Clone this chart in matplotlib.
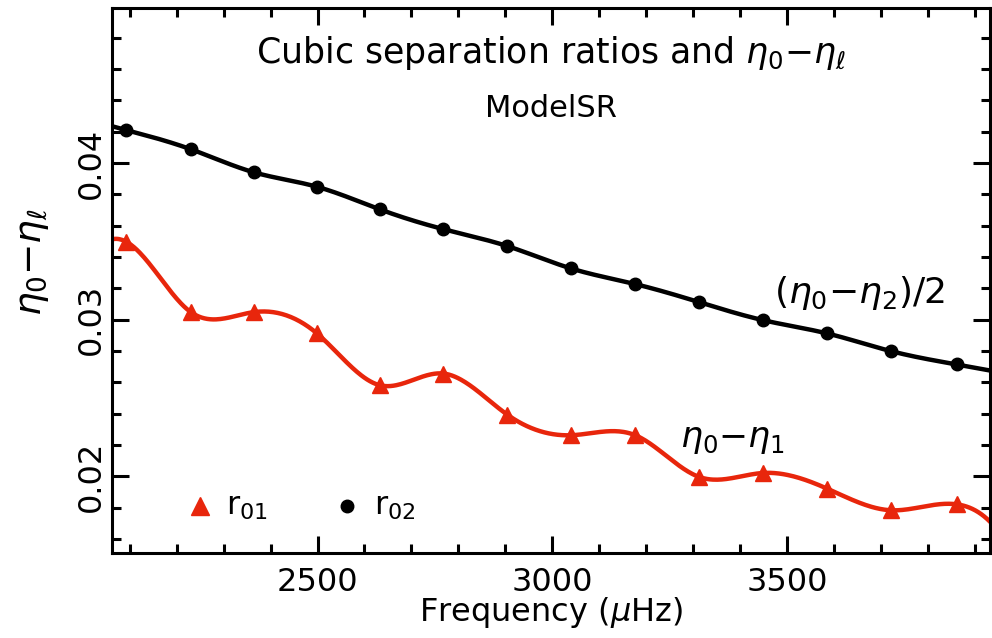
import numpy as np
import matplotlib
matplotlib.use('Agg')
import matplotlib.pyplot as plt
from matplotlib.ticker import MultipleLocator

# frequencies (muHz) and ratios
freq = [2092, 2230, 2364, 2498, 2633, 2768, 2904, 3040, 3177, 3313, 3449, 3586, 3722, 3862]
r02 = [0.04211, 0.04088, 0.03941, 0.03849, 0.03704, 0.03578, 0.03470,
       0.03327, 0.03227, 0.03112, 0.02997, 0.02912, 0.02799, 0.02714]
r01 = [0.03498, 0.03048, 0.03048, 0.02914, 0.02581, 0.02656, 0.02394,
       0.02262, 0.02262, 0.01996, 0.02021, 0.01921, 0.01783, 0.01821]

red = '#e8260c'


def spline(x, y, xs, d0=None, d1=None):
    # cubic spline, natural ends unless an end slope is given;
    # the end polynomials are used beyond the data
    x = np.asarray(x, float)
    y = np.asarray(y, float)
    n = len(x)
    h = np.diff(x)
    A = np.zeros((n, n))
    b = np.zeros(n)
    if d0 is None:
        A[0, 0] = 1
    else:
        A[0, 0] = 2 * h[0]
        A[0, 1] = h[0]
        b[0] = 3 * ((y[1] - y[0]) / h[0] - d0)
    if d1 is None:
        A[-1, -1] = 1
    else:
        A[-1, -2] = h[-1]
        A[-1, -1] = 2 * h[-1]
        b[-1] = 3 * (d1 - (y[-1] - y[-2]) / h[-1])
    for i in range(1, n - 1):
        A[i, i - 1] = h[i - 1]
        A[i, i] = 2 * (h[i - 1] + h[i])
        A[i, i + 1] = h[i]
        b[i] = 3 * ((y[i + 1] - y[i]) / h[i] - (y[i] - y[i - 1]) / h[i - 1])
    c = np.linalg.solve(A, b)
    bb = (y[1:] - y[:-1]) / h - h * (2 * c[:-1] + c[1:]) / 3
    d = (c[1:] - c[:-1]) / (3 * h)
    idx = np.clip(np.searchsorted(x, xs) - 1, 0, n - 2)
    dx = xs - x[idx]
    return y[idx] + bb[idx] * dx + c[idx] * dx ** 2 + d[idx] * dx ** 3


plt.rcParams['font.family'] = 'DejaVu Sans'
plt.rcParams['mathtext.fontset'] = 'dejavusans'

fig = plt.figure(figsize=(9.92, 6.38), dpi=100)
ax = fig.add_axes([0.1129, 0.1332, 0.8851, 0.8543])

xlo, xhi = 2062, 3933
xs = np.linspace(xlo, xhi, 600)
ax.plot(xs, spline(freq, r02, xs), color='black', lw=3.2, zorder=2)
ax.plot(xs, spline(freq, r01, xs, d0=-1.6e-5, d1=-4e-6), color=red, lw=3.2, zorder=2)
ax.plot(freq, r02, 'o', color='black', ms=9, zorder=3)
ax.plot(freq, r01, '^', color=red, ms=12, zorder=3)

ax.set_xlim(xlo, xhi)
ax.set_ylim(0.0151, 0.0499)

ax.xaxis.set_major_locator(MultipleLocator(500))
ax.xaxis.set_minor_locator(MultipleLocator(100))
ax.yaxis.set_major_locator(MultipleLocator(0.01))
ax.yaxis.set_minor_locator(MultipleLocator(0.002))
ax.tick_params(which='both', direction='in', top=True, right=True, width=2.2, labelsize=23)
ax.tick_params(which='major', length=12)
ax.tick_params(which='minor', length=6.5)
ax.tick_params(axis='x', pad=10)
for lab in ax.get_yticklabels():
    lab.set_rotation(90)
    lab.set_va('center')
for s in ax.spines.values():
    s.set_linewidth(2.2)

ax.set_xlabel(r'Frequency ($\mu$Hz)', fontsize=23, labelpad=-2)
ax.set_ylabel(r'$\eta_0$$-$$\eta_\ell$', fontsize=27)
ax.yaxis.set_label_coords(-0.069, 0.534)

ax.text(0.5, 0.917, r'Cubic separation ratios and $\eta_0$$-$$\eta_\ell$', transform=ax.transAxes,
        ha='center', va='center', fontsize=25)
ax.text(0.5, 0.815, 'ModelSR', transform=ax.transAxes, ha='center', va='center', fontsize=22)
ax.text(3655, 0.0317, r'($\eta_0$$-$$\eta_2$)/2', ha='center', va='center', fontsize=26)
ax.text(3384, 0.0224, r'$\eta_0$$-$$\eta_1$', ha='center', va='center', fontsize=25)

# legend drawn by hand like the original
ax.plot([2250], [0.0181], '^', color=red, ms=13)
ax.text(2305, 0.0181, r'r$_{01}$', ha='left', va='center', fontsize=23)
ax.plot([2563], [0.0181], 'o', color='black', ms=9)
ax.text(2620, 0.0181, r'r$_{02}$', ha='left', va='center', fontsize=23)

fig.savefig('out.png', dpi=100)
